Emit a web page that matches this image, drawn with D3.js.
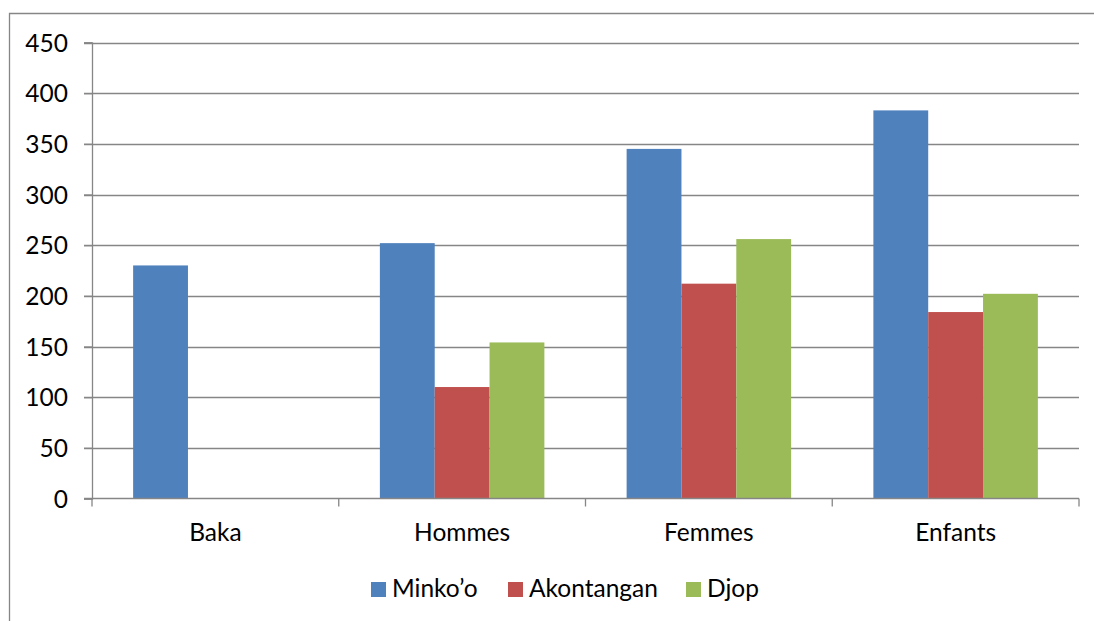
<!DOCTYPE html>
<html><head><meta charset="utf-8">
<script src="https://cdn.jsdelivr.net/npm/d3@7"></script>
<style>body{margin:0;background:#fff}svg{display:block}</style>
</head><body>
<svg id="chart" width="1094" height="621"></svg>
<script>
const categories = ["Baka", "Hommes", "Femmes", "Enfants"];
const seriesNames = ["Minko\u2019o", "Akontangan", "Djop"];
const minkoo = [230, 252, 345, 383];
const akontangan = [null, 110, 212, 184];
const djop = [null, 154, 256, 202];
const yTicks = [0, 50, 100, 150, 200, 250, 300, 350, 400, 450];
const colors = ["#4F81BD", "#C0504D", "#9BBB59"];

const seriesValues = [minkoo, akontangan, djop];
const svg = d3.select("#chart");
const font = "Lato, 'Open Sans', sans-serif";
const fs = 24.5;
const plotLeft = 92, plotRight = 1079, plotTop = 42.5, plotBottom = 498.5;

// outer border
svg.append("path").attr("d", "M9.5,621 V13.5 H1094").attr("fill","none").attr("stroke","#868686").attr("stroke-width",1.3);

const x = d3.scaleBand().domain(categories).range([plotLeft, plotRight]).padding(0);
const inner = d3.scaleBand().domain(seriesNames).range([0, x.bandwidth()]).paddingOuter(0.75).paddingInner(0);
const y = d3.scaleLinear().domain([0, 450]).range([plotBottom, plotTop]);

// gridlines
svg.append("g").selectAll("line").data(yTicks.filter(d=>d>0)).join("line")
  .attr("x1", plotLeft - 8).attr("x2", plotRight)
  .attr("y1", d => Math.round(y(d)) + 0.5).attr("y2", d => Math.round(y(d)) + 0.5)
  .attr("stroke", "#868686").attr("stroke-width", 1.3);

// bars
const data = [];
categories.forEach((c, i) => seriesNames.forEach((s, j) => {
  const v = seriesValues[j][i];
  if (v != null) data.push({c, s, v, j});
}));
svg.append("g").selectAll("rect").data(data).join("rect")
  .attr("x", d => x(d.c) + inner(d.s))
  .attr("width", inner.bandwidth())
  .attr("y", d => y(d.v))
  .attr("height", d => y(0) - y(d.v))
  .attr("fill", d => colors[d.j]);

// y axis
const yAxis = svg.append("g").attr("transform", `translate(${plotLeft},0)`)
  .call(d3.axisLeft(y).tickValues(yTicks).tickSize(8).tickPadding(16));
yAxis.select(".domain").attr("stroke", "#868686").attr("stroke-width", 1.3);
yAxis.selectAll(".tick line").attr("stroke", "#868686").attr("stroke-width", 1.3);
yAxis.selectAll("text").attr("font-family", font).attr("font-size", fs).attr("fill", "#000").attr("dy", "0.35em");

// x axis
const xAxis = svg.append("g").attr("transform", `translate(0,${plotBottom})`);
xAxis.append("line").attr("x1", plotLeft - 8).attr("x2", plotRight).attr("stroke", "#868686").attr("stroke-width", 1.3);
const bounds = categories.map(c => x(c)).concat([plotRight]);
xAxis.selectAll("line.t").data(bounds).join("line").attr("class","t")
  .attr("x1", d => d).attr("x2", d => d).attr("y1", 0).attr("y2", 8)
  .attr("stroke", "#868686").attr("stroke-width", 1.3);
xAxis.selectAll("text").data(categories).join("text")
  .attr("x", d => x(d) + x.bandwidth() / 2).attr("y", 42)
  .attr("text-anchor", "middle").attr("font-family", font).attr("font-size", fs).attr("fill", "#000")
  .text(d => d);

// legend
const legendX = [371, 508, 686];
const lg = svg.append("g");
seriesNames.forEach((s, j) => {
  lg.append("rect").attr("x", legendX[j]).attr("y", 582).attr("width", 15).attr("height", 15).attr("fill", colors[j]);
  lg.append("text").attr("x", legendX[j] + 21).attr("y", 597).attr("font-family", font).attr("font-size", fs).attr("fill", "#000").text(s);
});
</script>
</body></html>
